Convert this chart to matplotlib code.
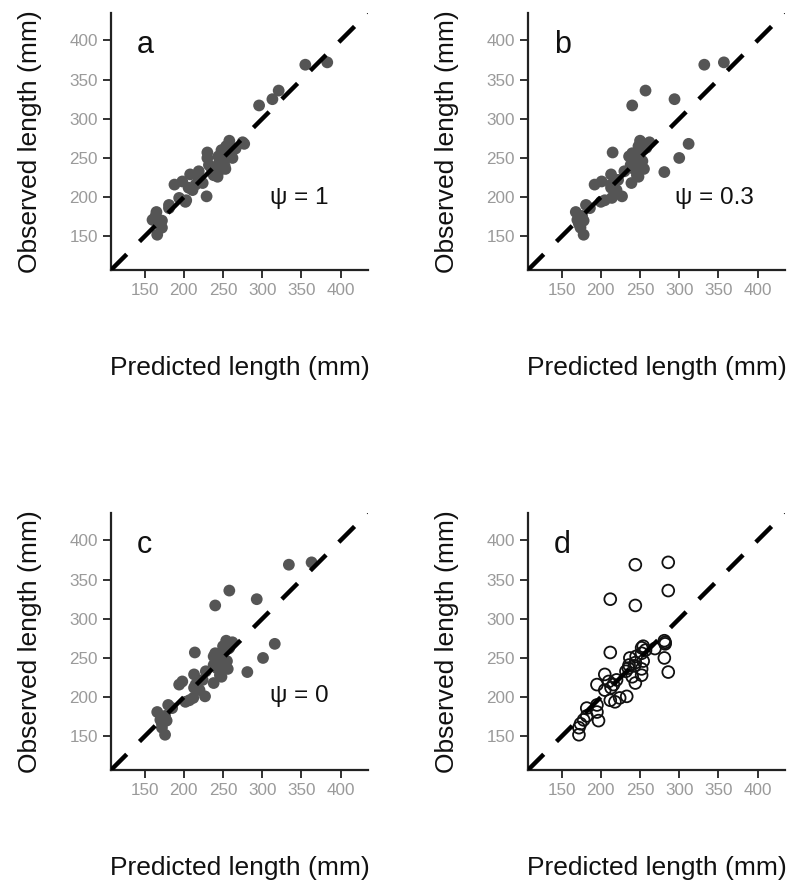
import matplotlib
matplotlib.use("Agg")
import matplotlib.pyplot as plt

plt.rcParams['font.family'] = ['Liberation Sans', 'DejaVu Sans']
plt.rcParams['lines.scale_dashes'] = False

# Observed lengths (mm), shared by all panels
observed = [369, 372, 336, 325, 317, 257, 270, 272, 268, 250, 232, 262, 265,
            152, 161, 166, 171, 176, 181, 186, 190, 170, 201, 199, 196, 194,
            216, 220, 229, 216, 209, 222, 233, 237, 241, 244, 252, 250, 256,
            246, 240, 226, 236, 260, 263, 228, 218, 212]
# Predicted lengths (mm) per panel
pred_a = [355, 383, 321, 313, 296, 230, 275, 258, 277, 262, 244, 266, 254,
          166, 172, 168, 160, 164, 165, 181, 181, 172, 229, 194, 203, 202,
          188, 198, 208, 215, 211, 219, 219, 235, 232, 245, 244, 230, 248,
          250, 252, 243, 253, 248, 255, 238, 224, 206]
pred_b = [332, 357, 257, 294, 240, 215, 262, 250, 312, 300, 281, 255, 248,
          178, 174, 172, 170, 176, 168, 186, 181, 178, 227, 214, 205, 200,
          192, 201, 213, 213, 220, 222, 230, 240, 238, 243, 236, 243, 240,
          253, 247, 248, 255, 250, 258, 246, 239, 213]
pred_c = [334, 363, 258, 293, 240, 214, 262, 254, 316, 301, 281, 257, 250,
          176, 172, 172, 170, 176, 166, 185, 180, 178, 227, 212, 207, 202,
          194, 198, 213, 215, 220, 224, 228, 242, 238, 244, 238, 244, 240,
          255, 248, 248, 256, 251, 258, 246, 238, 213]
pred_d = [244, 286, 286, 212, 244, 212, 282, 281, 282, 281, 286, 269, 254,
          172, 172, 174, 178, 182, 195, 182, 195, 197, 233, 224, 212, 218,
          195, 210, 205, 216, 205, 220, 232, 235, 236, 244, 245, 237, 252,
          254, 243, 240, 252, 257, 252, 252, 244, 213]

panel_letters = ['a', 'b', 'c', 'd']
psi_labels = ['\u03c8 = 1', '\u03c8 = 0.3', '\u03c8 = 0', None]
ticks = [150, 200, 250, 300, 350, 400]
lims = (107, 435)

W, H = 791, 883
fig = plt.figure(figsize=(W / 100, H / 100), dpi=100)

boxes = [(111, 13), (528, 13), (111, 513), (528, 513)]
size = 257
preds = [pred_a, pred_b, pred_c, pred_d]
psi_pos = [(0.619, 0.257), (0.572, 0.257), (0.619, 0.265), None]

for i, (x0, y0) in enumerate(boxes):
    ax = fig.add_axes([x0 / W, 1 - (y0 + size) / H, size / W, size / H])
    ax.set_xlim(lims)
    ax.set_ylim(lims)
    ax.plot(lims, lims, color='black', lw=3.2, dashes=(16, 13),
            solid_capstyle='butt', dash_capstyle='butt', zorder=3)
    if i < 3:
        ax.scatter(preds[i], observed, s=72, color='#555555',
                   edgecolors='none', zorder=2)
    else:
        ax.scatter(preds[i], observed, s=72, facecolors='none',
                   edgecolors='#111111', linewidths=1.3, zorder=2)
    for s in ['top', 'right']:
        ax.spines[s].set_visible(False)
    for s in ['left', 'bottom']:
        ax.spines[s].set_linewidth(1.6)
        ax.spines[s].set_color('#222222')
    ax.set_xticks(ticks)
    ax.set_yticks(ticks)
    ax.tick_params(length=5.5, width=1.3, color='#222222', labelsize=12.3,
                   labelcolor='#9a9a9a', pad=4)
    ax.set_xlabel('Predicted length (mm)', fontsize=19.0, color='#111111')
    ax.set_ylabel('Observed length (mm)', fontsize=19.0, color='#111111')
    ax.xaxis.set_label_coords(0.5, -0.335)
    ax.yaxis.set_label_coords(-0.267, 0.5)
    ax.text(0.101, 0.844, panel_letters[i], transform=ax.transAxes,
            fontsize=22, va='baseline', ha='left', color='#111111')
    if psi_labels[i]:
        px, py = psi_pos[i]
        ax.text(px, py, psi_labels[i], transform=ax.transAxes,
                fontsize=17.5, va='baseline', ha='left', color='#111111')

fig.savefig('out.png', dpi=100)
